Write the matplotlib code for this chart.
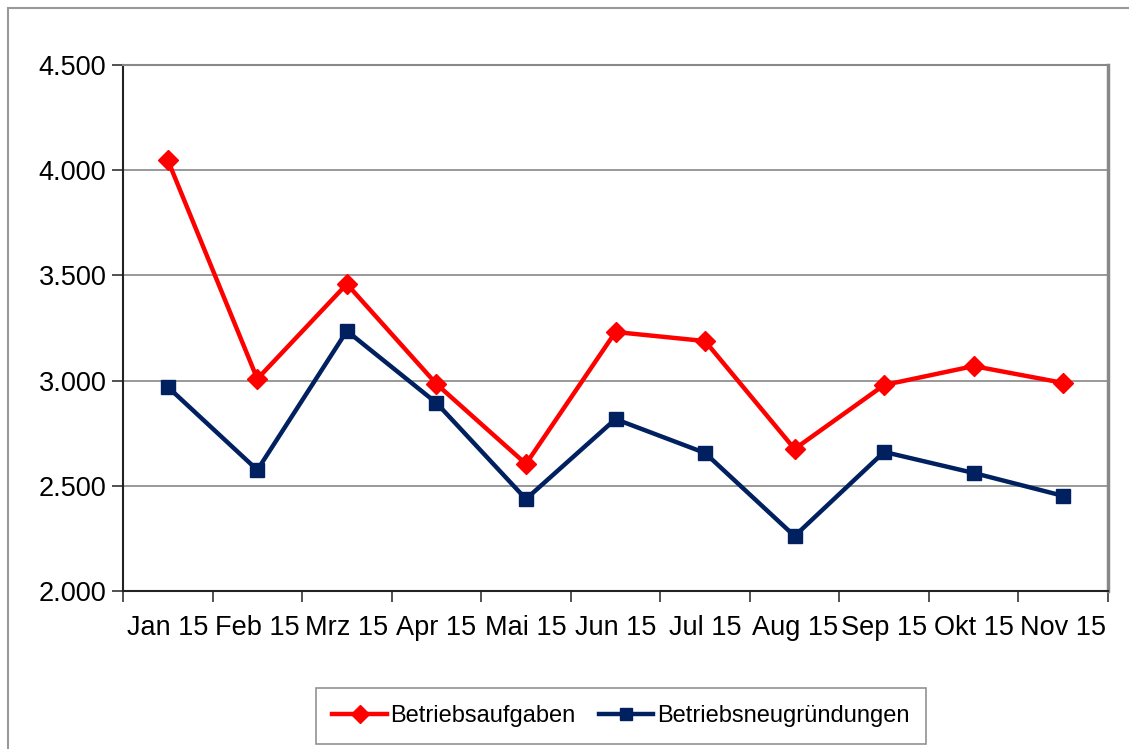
import matplotlib
matplotlib.use("Agg")
import matplotlib.pyplot as plt
import matplotlib.patches as mpatches
from matplotlib.ticker import FuncFormatter, FixedLocator, NullFormatter

plt.rcParams['font.family'] = ['Liberation Sans', 'DejaVu Sans']

# data
months = ['Jan 15', 'Feb 15', 'Mrz 15', 'Apr 15', 'Mai 15', 'Jun 15',
          'Jul 15', 'Aug 15', 'Sep 15', 'Okt 15', 'Nov 15']
aufgaben = [4048, 3008, 3459, 2984, 2604, 3231, 3188, 2675, 2979, 3069, 2989]
neugruendungen = [2970, 2575, 3236, 2894, 2437, 2817, 2656, 2261, 2661, 2561, 2452]

red = '#ff0000'
navy = '#002060'

fig = plt.figure(figsize=(11.29, 7.49), dpi=100, facecolor='w')
ax = fig.add_axes([123/1129, 1-591/749, (1108-123)/1129, (591-65)/749])

x = list(range(len(months)))
ax.plot(x, aufgaben, color=red, lw=3.2, marker='D', ms=10,
        label='Betriebsaufgaben', zorder=3)
ax.plot(x, neugruendungen, color=navy, lw=3.2, marker='s', ms=10,
        label='Betriebsneugründungen', zorder=3)

ax.set_xlim(-0.5, len(months) - 0.5)
ax.set_ylim(2000, 4500)
ax.set_yticks(range(2000, 4501, 500))
ax.yaxis.set_major_formatter(FuncFormatter(lambda v, p: f"{v:,.0f}".replace(",", ".")))

# ticks between categories, labels centred on categories
ax.xaxis.set_major_locator(FixedLocator([i - 0.5 for i in range(len(months) + 1)]))
ax.xaxis.set_major_formatter(NullFormatter())
ax.xaxis.set_minor_locator(FixedLocator(x))
ax.set_xticklabels(months, minor=True)
ax.tick_params(axis='x', which='minor', length=0, pad=17, labelsize=19.5)
ax.tick_params(axis='x', which='major', length=8, width=1.2, color='#333333')
ax.tick_params(axis='y', length=8, width=1.2, color='#333333', labelsize=19.5, pad=4)

for v in range(2500, 4501, 500):
    ax.axhline(v, color='#888888', lw=1.2, zorder=1)

ax.spines['left'].set_color('#222222')
ax.spines['left'].set_linewidth(1.5)
ax.spines['bottom'].set_color('#222222')
ax.spines['bottom'].set_linewidth(1.5)
ax.spines['top'].set_color('#888888')
ax.spines['top'].set_linewidth(1.5)
ax.spines['right'].set_color('#888888')
ax.spines['right'].set_linewidth(2.5)

# outer chart border
fig.patches.append(mpatches.Rectangle((8/1129, -0.2), 1.2, 1.2 - 8/749,
                                      transform=fig.transFigure, fill=False,
                                      edgecolor='#999999', lw=1.5))

leg = fig.legend(loc='center', bbox_to_anchor=(621/1129, 1-716/749), ncol=2,
                 fontsize=17, frameon=True, fancybox=False, handlelength=2.3,
                 columnspacing=1.0, borderpad=0.7, handletextpad=0.15,
                 borderaxespad=0)
leg.get_frame().set_edgecolor('#777777')
leg.get_frame().set_linewidth(1.2)
for h in leg.legend_handles:
    h.set_markersize(9)

fig.savefig('out.png', dpi=100, facecolor='w')
